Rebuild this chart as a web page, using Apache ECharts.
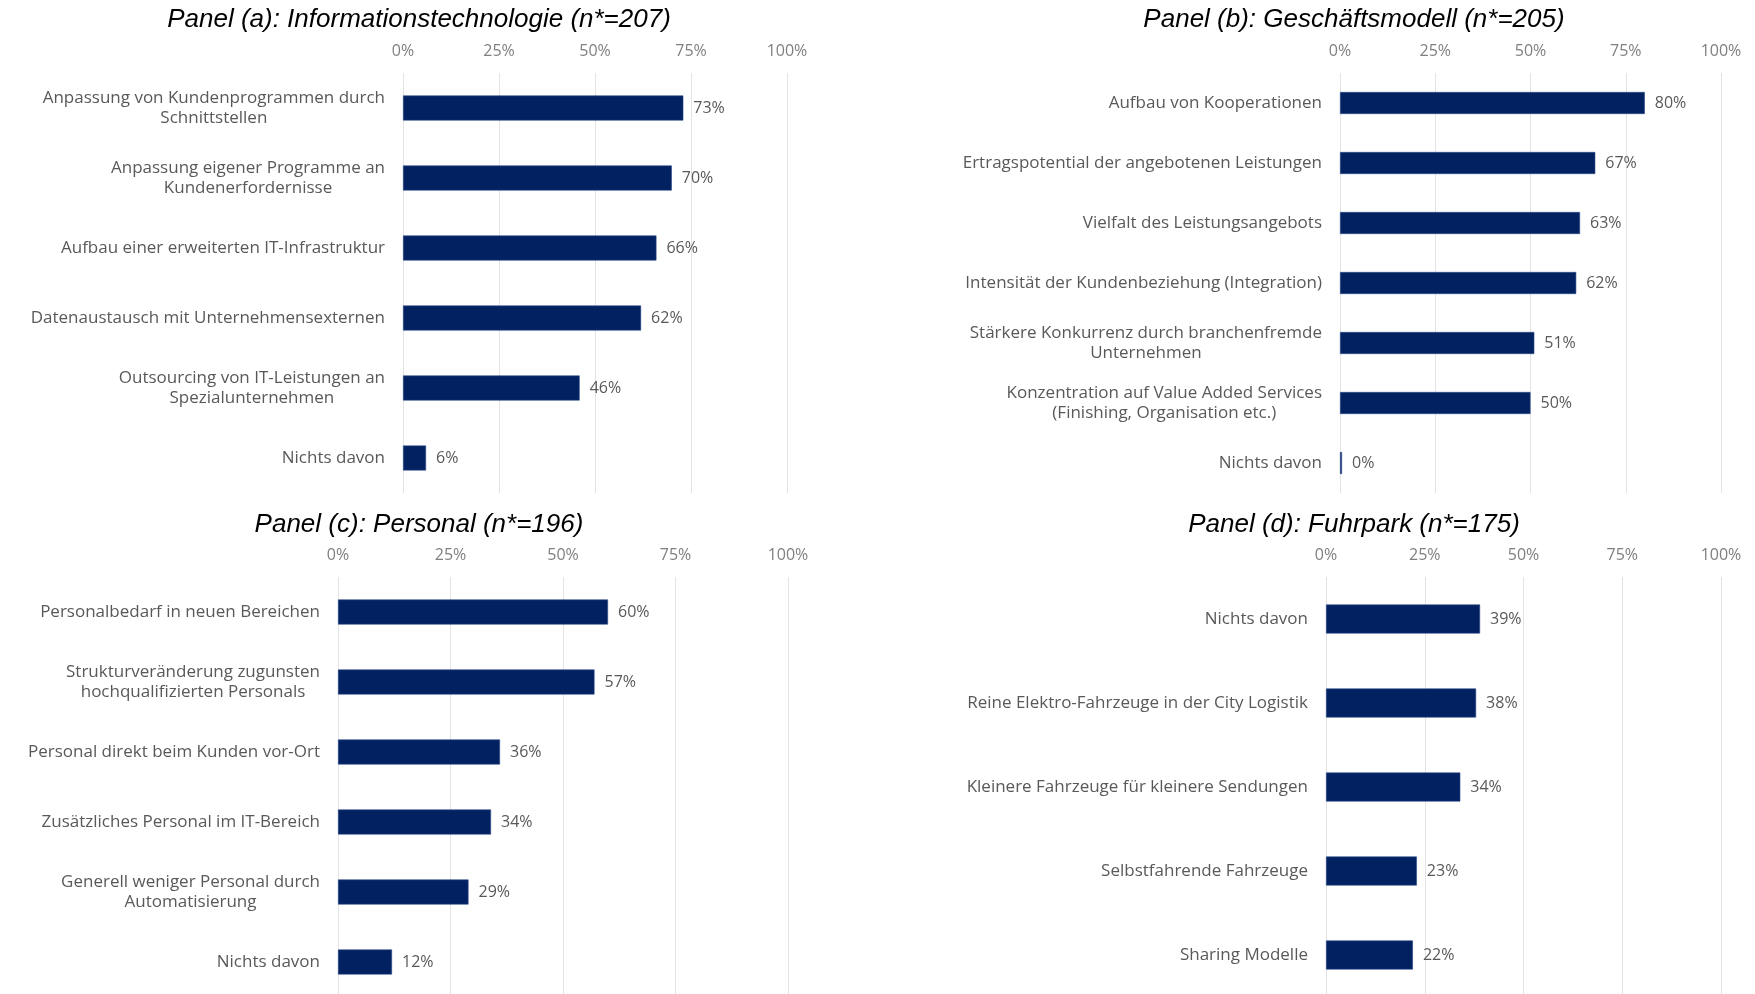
<!DOCTYPE html>
<html>
<head>
<meta charset="utf-8">
<script src="https://cdn.jsdelivr.net/npm/echarts@6/dist/echarts.min.js"></script>
<style>
  html, body { margin: 0; padding: 0; background: #fff; }
  #main { width: 1755px; height: 994px; }
</style>
</head>
<body>
<div id="main"></div>
<script>
// Panel (a): Informationstechnologie
var catsA = [
    'Anpassung von Kundenprogrammen durch\nSchnittstellen',
    'Anpassung eigener Programme an\nKundenerfordernisse',
    'Aufbau einer erweiterten IT-Infrastruktur',
    'Datenaustausch mit Unternehmensexternen',
    'Outsourcing von IT-Leistungen an\nSpezialunternehmen',
    'Nichts davon'
];
var valsA = [73, 70, 66, 62, 46, 6];

// Panel (b): Geschäftsmodell
var catsB = [
    'Aufbau von Kooperationen',
    'Ertragspotential der angebotenen Leistungen',
    'Vielfalt des Leistungsangebots',
    'Intensität der Kundenbeziehung (Integration)',
    'Stärkere Konkurrenz durch branchenfremde\nUnternehmen',
    'Konzentration auf Value Added Services\n(Finishing, Organisation etc.)',
    'Nichts davon'
];
var valsB = [80, 67, 63, 62, 51, 50, 0];

// Panel (c): Personal
var catsC = [
    'Personalbedarf in neuen Bereichen',
    'Strukturveränderung zugunsten\nhochqualifizierten Personals',
    'Personal direkt beim Kunden vor-Ort',
    'Zusätzliches Personal im IT-Bereich',
    'Generell weniger Personal durch\nAutomatisierung',
    'Nichts davon'
];
var valsC = [60, 57, 36, 34, 29, 12];

// Panel (d): Fuhrpark
var catsD = [
    'Nichts davon',
    'Reine Elektro-Fahrzeuge in der City Logistik',
    'Kleinere Fahrzeuge für kleinere Sendungen',
    'Selbstfahrende Fahrzeuge',
    'Sharing Modelle'
];
var valsD = [39, 38, 34, 23, 22];

var titles = [
    'Panel (a): Informationstechnologie (n*=207)',
    'Panel (b): Geschäftsmodell (n*=205)',
    'Panel (c): Personal (n*=196)',
    'Panel (d): Fuhrpark (n*=175)'
];

var FONT = 'Open Sans';
var barColor = '#022161';

// untere Panels reichen bis knapp unter den Rand
var grids = [
    {left: 403, right: 968, top: 73, height: 420},
    {left: 1340, right: 34, top: 73, height: 420},
    {left: 338, right: 967, top: 577, height: 420},
    {left: 1326, right: 34, top: 577, height: 420}
];
grids.forEach(function (g) { g.outerBoundsMode = 'none'; });
var titlePos = [[414, 2], [1349, 2], [414, 507], [1349, 507]];
var barWidths = [25, 22, 25, 29];
var allCats = [catsA, catsB, catsC, catsD];
var allVals = [valsA, valsB, valsC, valsD];

var myChart = echarts.init(document.getElementById('main'));

var option = {
    backgroundColor: '#fff',
    animation: false,
    title: [],
    grid: grids,
    xAxis: [],
    yAxis: [],
    series: []
};

for (var i = 0; i < 4; i++) {
    option.title.push({
        text: titles[i],
        left: titlePos[i][0],
        top: titlePos[i][1],
        textAlign: 'center',
        textStyle: {
            fontFamily: 'Liberation Sans',
            fontStyle: 'italic',
            fontWeight: 'normal',
            fontSize: 26,
            color: '#000'
        }
    });
    option.xAxis.push({
        gridIndex: i,
        type: 'value',
        position: 'top',
        min: 0,
        max: 100,
        interval: 25,
        axisLine: {show: false},
        axisTick: {show: false},
        splitLine: {lineStyle: {color: '#e3e3e3', width: 1}},
        axisLabel: {
            formatter: '{value}%',
            margin: 14,
            color: '#7f7f7f',
            fontFamily: FONT,
            fontSize: 16
        }
    });
    option.yAxis.push({
        gridIndex: i,
        type: 'category',
        inverse: true,
        data: allCats[i],
        axisLine: {show: false},
        axisTick: {show: false},
        axisLabel: {
            margin: 18,
            interval: 0,
            formatter: function (v) {
                return v.split('\n').map(function (s) { return '{c|' + s + '}'; }).join('\n');
            },
            rich: {
                c: {
                    align: 'center',
                    color: '#595959',
                    fontFamily: FONT,
                    fontSize: 17,
                    lineHeight: 20
                }
            }
        }
    });
    option.series.push({
        type: 'bar',
        xAxisIndex: i,
        yAxisIndex: i,
        data: allVals[i],
        barWidth: barWidths[i],
        barMinHeight: 2,
        itemStyle: {color: barColor, borderColor: '#2c4a8a', borderWidth: 0.6},
        label: {
            show: true,
            position: 'right',
            distance: 10,
            formatter: '{c}%',
            color: '#595959',
            fontFamily: FONT,
            fontSize: 16
        }
    });
}

myChart.setOption(option);
</script>
</body>
</html>
